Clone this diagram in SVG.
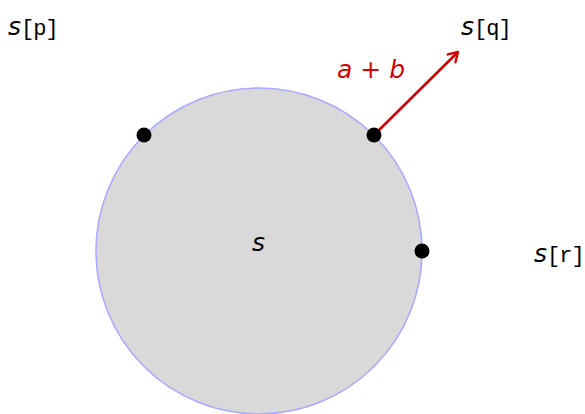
<svg xmlns="http://www.w3.org/2000/svg" width="585" height="414" viewBox="0 0 585 414">
<style>
.it{font-family:"DejaVu Sans","Liberation Sans",sans-serif;font-style:italic;font-size:25px;fill:#000}
.tt{font-family:"Liberation Mono",monospace;font-size:22px;letter-spacing:-1px;fill:#000}
.dot{fill:#000}
</style>
<defs>
<marker id="ah" viewBox="0 0 14 14" refX="11" refY="7" markerWidth="14" markerHeight="14" markerUnits="userSpaceOnUse" orient="auto">
<path d="M2,1.5 L11,7 L2,12.5" fill="none" stroke="#cc0000" stroke-width="2.4" stroke-linecap="round" stroke-linejoin="round"/>
</marker>
</defs>
<g id="circle">
<circle cx="259" cy="251" r="163" fill="#d9d9d9" stroke="#aaaaff" stroke-width="1.6"/>
<text class="it" x="252" y="251">s</text>
</g>
<g id="connectors">
<line x1="374" y1="135" x2="458" y2="52" stroke="#cc0000" stroke-width="2.6" marker-end="url(#ah)"/>
<text class="it" x="337" y="78" style="fill:#cc0000">a + b</text>
</g>
<g id="p">
<circle class="dot" cx="144" cy="135" r="7.5"/>
<text x="8" y="35"><tspan class="it">s</tspan><tspan class="tt">[p]</tspan></text>
</g>
<g id="q">
<circle class="dot" cx="374" cy="135" r="7.5"/>
<text x="461" y="35"><tspan class="it">s</tspan><tspan class="tt">[q]</tspan></text>
</g>
<g id="r">
<circle class="dot" cx="422" cy="251" r="7.5"/>
<text x="534" y="262"><tspan class="it">s</tspan><tspan class="tt">[r]</tspan></text>
</g>
</svg>
